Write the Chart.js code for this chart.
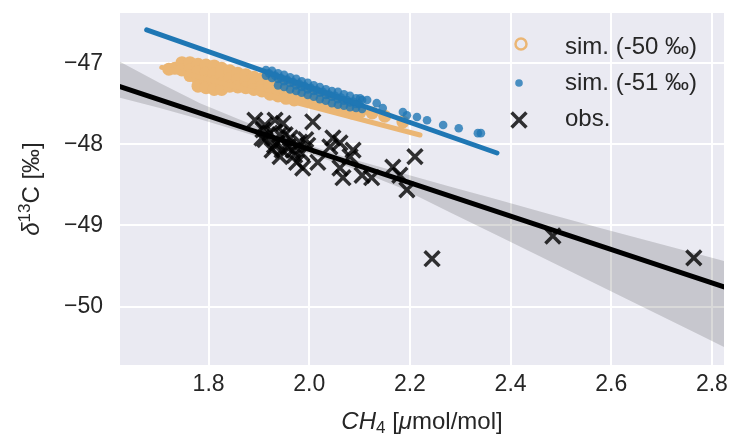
<!DOCTYPE html>
<html>
<head>
<meta charset="utf-8">
<script src="https://cdn.jsdelivr.net/npm/chart.js@4.4.1/dist/chart.umd.min.js"></script>
<style>
  html, body { margin: 0; padding: 0; background: #fff; }
  #wrap { width: 730px; height: 434px; }
</style>
</head>
<body>
<div id="wrap"><canvas id="chart" width="730" height="434"></canvas></div>
<script>
// observations (black crosses)
const obsX = [1.892, 1.932, 1.948, 2.007, 1.908, 1.922, 1.936, 1.926, 1.942, 1.962, 1.981, 1.968,
  1.985, 1.987, 1.975, 2.017, 2.047, 2.061, 2.087, 2.041, 2.081, 2.061, 2.067, 2.105, 2.124, 2.166,
  2.180, 2.194, 2.210, 2.244, 2.484, 2.764, 1.952, 1.912, 1.958, 1.997,
  1.912, 1.941, 1.931, 1.971, 1.946, 1.993, 1.906];
const obsY = [-47.70, -47.70, -47.74, -47.72, -47.82, -47.86, -47.98, -48.07, -48.15, -47.92, -47.97, -48.07,
  -48.11, -48.29, -48.22, -48.22, -47.92, -47.98, -48.07, -48.03, -48.15, -48.29, -48.41, -48.38, -48.41, -48.28,
  -48.38, -48.56, -48.15, -49.41, -49.13, -49.40, -47.88, -47.94, -48.03, -48.01,
  -47.76, -47.88, -48.01, -48.13, -48.07, -47.94, -47.92];

// simulation with -50 permil source
const simAX = [1.721, 1.733, 1.747, 1.747, 1.763, 1.763, 1.763, 1.779, 1.779, 1.779, 1.779,
  1.795, 1.795, 1.795, 1.795, 1.811, 1.811, 1.811, 1.811, 1.826, 1.826, 1.826, 1.826,
  1.842, 1.842, 1.842, 1.858, 1.858, 1.858, 1.874, 1.874, 1.874, 1.890, 1.890, 1.890,
  1.906, 1.906, 1.906, 1.922, 1.922, 1.922, 1.938, 1.938, 1.938, 1.954, 1.954, 1.954,
  1.970, 1.970, 1.970, 1.985, 1.985, 2.005, 2.005, 2.025, 2.025, 2.045, 2.045,
  2.065, 2.065, 2.085, 2.085, 2.101, 2.125, 2.150, 2.186];
const simAY = [-47.07, -47.06, -46.99, -47.08, -46.99, -47.08, -47.15, -47.01, -47.10, -47.20, -47.28,
  -47.02, -47.12, -47.22, -47.30, -47.03, -47.13, -47.23, -47.32, -47.06, -47.15, -47.25, -47.32,
  -47.09, -47.19, -47.28, -47.12, -47.20, -47.29, -47.14, -47.23, -47.30, -47.17, -47.25, -47.32,
  -47.19, -47.28, -47.34, -47.22, -47.30, -47.38, -47.24, -47.33, -47.40, -47.27, -47.35, -47.43,
  -47.30, -47.39, -47.45, -47.34, -47.43, -47.38, -47.46, -47.41, -47.50, -47.45, -47.54,
  -47.49, -47.57, -47.52, -47.61, -47.60, -47.61, -47.65, -47.72];

// simulation with -51 permil source
const simBX = [1.914, 1.914, 1.926, 1.926, 1.938, 1.938, 1.938, 1.950, 1.950, 1.950,
  1.962, 1.962, 1.962, 1.974, 1.974, 1.974, 1.985, 1.985, 1.985, 1.997, 1.997, 1.997,
  2.009, 2.009, 2.009, 2.021, 2.021, 2.021, 2.033, 2.033, 2.033, 2.045, 2.045, 2.045,
  2.057, 2.057, 2.057, 2.069, 2.069, 2.069, 2.081, 2.081, 2.081, 2.093, 2.093, 2.093,
  2.105, 2.105, 2.101, 2.115, 2.134, 2.146, 2.186, 2.194, 2.214, 2.234, 2.266, 2.297, 2.335, 2.341,
  1.920, 1.932, 1.944, 1.956, 1.968, 1.980, 1.991, 2.003, 2.015, 2.027, 2.039, 2.051, 2.063, 2.075, 2.087, 2.099];
const simBY = [-47.08, -47.15, -47.09, -47.18, -47.12, -47.19, -47.27, -47.14, -47.22, -47.29,
  -47.17, -47.24, -47.32, -47.19, -47.27, -47.34, -47.22, -47.29, -47.36, -47.24, -47.32, -47.39,
  -47.27, -47.34, -47.41, -47.29, -47.36, -47.44, -47.32, -47.39, -47.46, -47.34, -47.41, -47.49,
  -47.35, -47.44, -47.51, -47.38, -47.46, -47.52, -47.40, -47.48, -47.54, -47.43, -47.50, -47.55,
  -47.45, -47.56, -47.43, -47.45, -47.49, -47.55, -47.60, -47.64, -47.66, -47.70, -47.76, -47.80, -47.86, -47.86,
  -47.12, -47.15, -47.18, -47.20, -47.23, -47.25, -47.28, -47.30, -47.33, -47.35, -47.38, -47.40, -47.42, -47.45, -47.47, -47.50];

// regression lines
const fitObsX = [1.624, 2.824];
const fitObsY = [-47.286, -49.759];
const fitAX = [1.707, 2.220];
const fitAY = [-47.049, -47.883];
const fitBX = [1.677, 2.373];
const fitBY = [-46.586, -48.105];

// confidence band of the observation fit
const bandX = [1.624, 1.703, 1.783, 1.882, 1.981, 2.081, 2.180, 2.279, 2.379, 2.478, 2.578, 2.677, 2.776, 2.824];
const bandUpper = [-46.978, -47.241, -47.490, -47.744, -47.968, -48.173, -48.347, -48.520, -48.688,
  -48.862, -49.030, -49.196, -49.358, -49.438];
const bandLower = [-47.422, -47.549, -47.688, -47.874, -48.073, -48.284, -48.532, -48.835, -49.138,
  -49.442, -49.746, -50.048, -50.352, -50.500];

const xTicks = [1.8, 2.0, 2.2, 2.4, 2.6, 2.8];
const yTicks = [-50, -49, -48, -47];
const legendLabels = ["sim. (-50 ‰)", "sim. (-51 ‰)", "obs."];

const FONT = '"Liberation Sans", Arial, sans-serif';
const TEXT = "#262626";
const ORANGE = "rgb(235, 182, 116)";
const BLUE = "rgb(31, 119, 180)";
const BLUE_DOT = "rgba(31, 119, 180, 0.8)";
const CROSS = "rgba(0, 0, 0, 0.8)";

const pts = (xs, ys) => xs.map((x, i) => ({ x: x, y: ys[i] }));

function drawRuns(ctx, runs, x, y, angle) {
  ctx.save();
  ctx.translate(x, y);
  ctx.rotate(angle);
  ctx.fillStyle = TEXT;
  ctx.textBaseline = "alphabetic";
  ctx.textAlign = "left";
  let total = 0;
  runs.forEach((r) => {
    ctx.font = `${r.style} ${r.size}px ${FONT}`;
    total += ctx.measureText(r.text).width;
  });
  let cx = -total / 2;
  runs.forEach((r) => {
    ctx.font = `${r.style} ${r.size}px ${FONT}`;
    ctx.fillText(r.text, cx, r.dy);
    cx += ctx.measureText(r.text).width;
  });
  ctx.restore();
}

function drawCross(ctx, x, y, r) {
  const d = r * Math.SQRT1_2;
  ctx.beginPath();
  ctx.moveTo(x - d, y - d);
  ctx.lineTo(x + d, y + d);
  ctx.moveTo(x - d, y + d);
  ctx.lineTo(x + d, y - d);
  ctx.stroke();
}

// no extra room for tick labels, the plot box is fixed
function fixPadding(axis) {
  axis.paddingTop = 0;
  axis.paddingBottom = 0;
  axis.paddingLeft = 0;
  axis.paddingRight = 0;
}

const backgroundPlugin = {
  id: "darkgrid",
  beforeDraw(chart) {
    const { ctx, chartArea: a } = chart;
    ctx.save();
    ctx.fillStyle = "#ffffff";
    ctx.fillRect(0, 0, chart.width, chart.height);
    ctx.fillStyle = "#eaeaf2";
    ctx.fillRect(a.left, a.top, a.right - a.left, a.bottom - a.top);
    ctx.restore();
  },
};

const titlesPlugin = {
  id: "axisTitles",
  afterDraw(chart) {
    const { ctx, chartArea: a } = chart;
    drawRuns(ctx, [
      { text: "CH", style: "italic", size: 24, dy: 0 },
      { text: "4", style: "normal", size: 17, dy: 4 },
      { text: " [", style: "normal", size: 24, dy: 0 },
      { text: "μ", style: "italic", size: 24, dy: 0 },
      { text: "mol/mol]", style: "normal", size: 24, dy: 0 },
    ], (a.left + a.right) / 2, 429, 0);
    drawRuns(ctx, [
      { text: "δ", style: "italic", size: 24, dy: 0 },
      { text: "13", style: "normal", size: 17, dy: -9 },
      { text: "C [‰]", style: "normal", size: 24, dy: 0 },
    ], 39, (a.top + a.bottom) / 2, -Math.PI / 2);
  },
};

const legendPlugin = {
  id: "insideLegend",
  afterDraw(chart) {
    const { ctx, chartArea: a } = chart;
    const mx = a.right - 205;
    const tx = a.right - 159;
    ctx.save();
    legendLabels.forEach((label, i) => {
      const y = a.top + 34 + i * 36;
      if (i === 0) {
        ctx.strokeStyle = ORANGE;
        ctx.lineWidth = 2.5;
        ctx.beginPath();
        ctx.arc(mx + 2, y - 3, 5.5, 0, Math.PI * 2);
        ctx.stroke();
      } else if (i === 1) {
        ctx.fillStyle = BLUE_DOT;
        ctx.beginPath();
        ctx.arc(mx, y, 3.8, 0, Math.PI * 2);
        ctx.fill();
      } else {
        ctx.strokeStyle = CROSS;
        ctx.lineWidth = 3.5;
        drawCross(ctx, mx, y + 1, 10.5);
      }
      ctx.fillStyle = TEXT;
      ctx.font = `24px ${FONT}`;
      ctx.textAlign = "left";
      ctx.textBaseline = "middle";
      ctx.fillText(label, tx, y);
    });
    ctx.restore();
  },
};

const lineDs = (xs, ys, color) => ({
  type: "line",
  data: pts(xs, ys),
  borderColor: color,
  borderWidth: 5,
  borderCapStyle: "round",
  pointRadius: 0,
  fill: false,
  tension: 0,
});

new Chart(document.getElementById("chart"), {
  type: "scatter",
  data: {
    datasets: [
      lineDs(fitObsX, fitObsY, "#000000"),
      {
        data: pts(obsX, obsY),
        pointStyle: "crossRot",
        pointRadius: 10.5,
        borderWidth: 3.5,
        borderColor: CROSS,
        backgroundColor: CROSS,
      },
      {
        type: "line",
        data: pts(bandX, bandUpper),
        borderWidth: 0,
        borderColor: "rgba(0,0,0,0)",
        backgroundColor: "rgba(0, 0, 0, 0.15)",
        pointRadius: 0,
        fill: "+1",
        tension: 0,
      },
      {
        type: "line",
        data: pts(bandX, bandLower),
        borderWidth: 0,
        borderColor: "rgba(0,0,0,0)",
        pointRadius: 0,
        fill: false,
        tension: 0,
      },
      lineDs(fitBX, fitBY, BLUE),
      {
        data: pts(simBX, simBY),
        pointRadius: 4.3,
        borderWidth: 0,
        backgroundColor: BLUE_DOT,
      },
      lineDs(fitAX, fitAY, ORANGE),
      {
        data: pts(simAX, simAY),
        pointRadius: 6.5,
        borderWidth: 0,
        backgroundColor: ORANGE,
      },
    ],
  },
  options: {
    responsive: false,
    animation: false,
    devicePixelRatio: 1,
    events: [],
    layout: { autoPadding: false, padding: { left: 0, right: 6, top: 13, bottom: 0 } },
    plugins: {
      legend: { display: false },
      tooltip: { enabled: false },
    },
    scales: {
      x: {
        type: "linear",
        min: 1.624,
        max: 2.824,
        afterBuildTicks: (axis) => {
          axis.ticks = xTicks.map((v) => ({ value: v }));
        },
        afterFit: (axis) => {
          axis.height = 69;
          fixPadding(axis);
        },
        ticks: {
          autoSkip: false,
          maxRotation: 0,
          padding: 6,
          color: TEXT,
          font: { family: FONT, size: 23 },
          callback: (v) => Number(v).toFixed(1),
        },
        grid: { color: "#ffffff", lineWidth: 2, drawTicks: false },
        border: { display: false },
      },
      y: {
        type: "linear",
        min: -50.722,
        max: -46.377,
        afterBuildTicks: (axis) => {
          axis.ticks = yTicks.map((v) => ({ value: v }));
        },
        afterFit: (axis) => {
          axis.width = 120;
          fixPadding(axis);
        },
        ticks: {
          autoSkip: false,
          padding: 17,
          color: TEXT,
          font: { family: FONT, size: 23 },
          callback: (v) => (v < 0 ? "\u2212" : "") + Math.abs(v),
        },
        grid: { color: "#ffffff", lineWidth: 2, drawTicks: false },
        border: { display: false },
      },
    },
  },
  plugins: [backgroundPlugin, titlesPlugin, legendPlugin],
});
</script>
</body>
</html>
